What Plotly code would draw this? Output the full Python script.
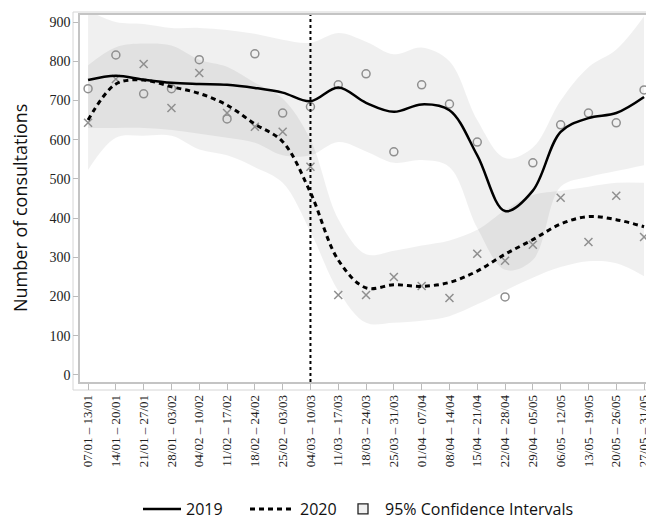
import plotly.graph_objects as go

weeks = ['07/01 – 13/01', '14/01 – 20/01', '21/01 – 27/01', '28/01 – 03/02',
         '04/02 – 10/02', '11/02 – 17/02', '18/02 – 24/02', '25/02 – 03/03',
         '04/03 – 10/03', '11/03 – 17/03', '18/03 – 24/03', '25/03 – 31/03',
         '01/04 – 07/04', '08/04 – 14/04', '15/04 – 21/04', '22/04 – 28/04',
         '29/04 – 05/05', '06/05 – 12/05', '13/05 – 19/05', '20/05 – 26/05',
         '27/05 – 31/05']

obs_2019 = [730, 816, 717, 730, 804, 653, 819, 668, 684, 740, 768, 569,
            740, 691, 594, 199, 541, 638, 668, 643, 727]
obs_2020 = [643, 755, 793, 681, 770, 668, 633, 620, 531, 204, 204, 250,
            227, 196, 309, 291, 332, 452, 339, 457, 352]

smooth_2019 = [752, 763, 753, 745, 742, 740, 732, 720, 698, 733, 694, 671,
               690, 675, 560, 418, 470, 620, 655, 668, 709]
smooth_2020 = [650, 742, 752, 735, 718, 688, 640, 595, 465, 293, 222, 230,
               226, 236, 265, 308, 345, 385, 404, 396, 378]

ci2019_lo = [630, 630, 630, 625, 615, 605, 592, 560, 560, 594, 570, 541,
             548, 530, 375, 268, 293, 480, 505, 520, 535]
ci2019_hi = [930, 900, 895, 885, 885, 880, 870, 855, 847, 872, 850, 818,
             835, 800, 650, 553, 580, 700, 785, 830, 915]
ci2020_lo = [523, 605, 610, 610, 575, 560, 530, 490, 365, 215, 133, 133,
             138, 150, 180, 215, 248, 275, 290, 285, 252]
ci2020_hi = [790, 836, 845, 840, 804, 786, 745, 705, 600, 398, 308, 317,
             330, 343, 370, 420, 459, 470, 480, 490, 490]

lockdown_week = '04/03 – 10/03'
y_ticks = [0, 100, 200, 300, 400, 500, 600, 700, 800, 900]

x = list(range(len(weeks)))
band_fill = 'rgba(0,0,0,0.058)'
marker_grey = '#8f8f8f'

fig = go.Figure()

for lo, hi in [(ci2019_lo, ci2019_hi), (ci2020_lo, ci2020_hi)]:
    fig.add_trace(go.Scatter(x=x, y=lo, mode='lines',
                             line=dict(width=0, shape='spline', smoothing=1),
                             showlegend=False, hoverinfo='skip'))
    fig.add_trace(go.Scatter(x=x, y=hi, mode='lines',
                             line=dict(width=0, shape='spline', smoothing=1),
                             fill='tonexty', fillcolor=band_fill,
                             showlegend=False, hoverinfo='skip'))

fig.add_trace(go.Scatter(x=x, y=obs_2019, mode='markers', showlegend=False,
                         marker=dict(symbol='circle-open', size=8, color=marker_grey,
                                     line=dict(width=1.5, color=marker_grey))))
fig.add_trace(go.Scatter(x=x, y=obs_2020, mode='markers', showlegend=False,
                         marker=dict(symbol='x-thin-open', size=8, color=marker_grey,
                                     line=dict(width=1.5, color=marker_grey))))

fig.add_trace(go.Scatter(x=x, y=smooth_2019, mode='lines', name='2019', legend='legend',
                         line=dict(color='black', width=2.5, shape='spline', smoothing=1)))
fig.add_trace(go.Scatter(x=x, y=smooth_2020, mode='lines', name='2020', legend='legend2',
                         line=dict(color='black', width=3, dash='5px,4px',
                                   shape='spline', smoothing=1)))
fig.add_trace(go.Scatter(x=[None], y=[None], mode='markers', legend='legend3',
                         name='95% Confidence Intervals',
                         marker=dict(symbol='square', size=10, color='#f0f0f0',
                                     line=dict(width=1.3, color='#222'))))

lx = weeks.index(lockdown_week)
fig.add_shape(type='line', xref='x', yref='paper', x0=lx, x1=lx, y0=0, y1=1,
              line=dict(color='black', width=2, dash='dot'), layer='above')

# outer light frame
fig.add_shape(type='rect', xref='paper', yref='paper',
              x0=-7 / 566, x1=1.05, y0=-8 / 367, y1=1 + 3 / 367,
              line=dict(color='#d6d6d6', width=1), layer='below')

fig.add_annotation(text='Number of consultations', textangle=-90,
                   xref='paper', yref='paper', x=(20 - 80) / 566, y=(382 - 208) / 367,
                   xanchor='center', yanchor='middle', showarrow=False,
                   font=dict(family='Open Sans', size=18, color='#111'))


def leg(start_px, itemw):
    return dict(orientation='h', xref='container', yref='container',
                x=start_px / 646, xanchor='left',
                y=1 - 509 / 519, yanchor='middle',
                font=dict(family='Open Sans', size=16, color='#111'),
                bgcolor='rgba(0,0,0,0)', itemwidth=itemw, borderwidth=0)


fig.update_layout(
    width=646, height=519,
    margin=dict(l=80, r=0, t=15, b=137),
    plot_bgcolor='white', paper_bgcolor='white',
    showlegend=True,
    legend=leg(138, 38),
    legend2=leg(245, 45),
    legend3=leg(341, 34),
)
fig.update_xaxes(range=[-0.29, 20.07], tickmode='array', tickvals=x, ticktext=weeks,
                 tickangle=-90, ticks='outside', ticklen=6, tickcolor='#bbbbbb',
                 showline=True, linecolor='#c4c4c4', linewidth=1.5, mirror=True,
                 showgrid=False, zeroline=False, automargin=False,
                 ticklabeloverflow='allow',
                 tickfont=dict(family='Liberation Serif', size=13, color='#222'))
fig.update_yaxes(range=[-18, 918], tickmode='array', tickvals=y_ticks,
                 ticks='outside', ticklen=5, tickcolor='#bbbbbb',
                 showline=True, linecolor='#c4c4c4', linewidth=1.5,
                 showgrid=False, zeroline=False, automargin=False,
                 tickfont=dict(family='Liberation Serif', size=14, color='#222'))

fig.write_html('out.html', config={'displayModeBar': False},
               post_script="document.body.style.margin='0px';")
